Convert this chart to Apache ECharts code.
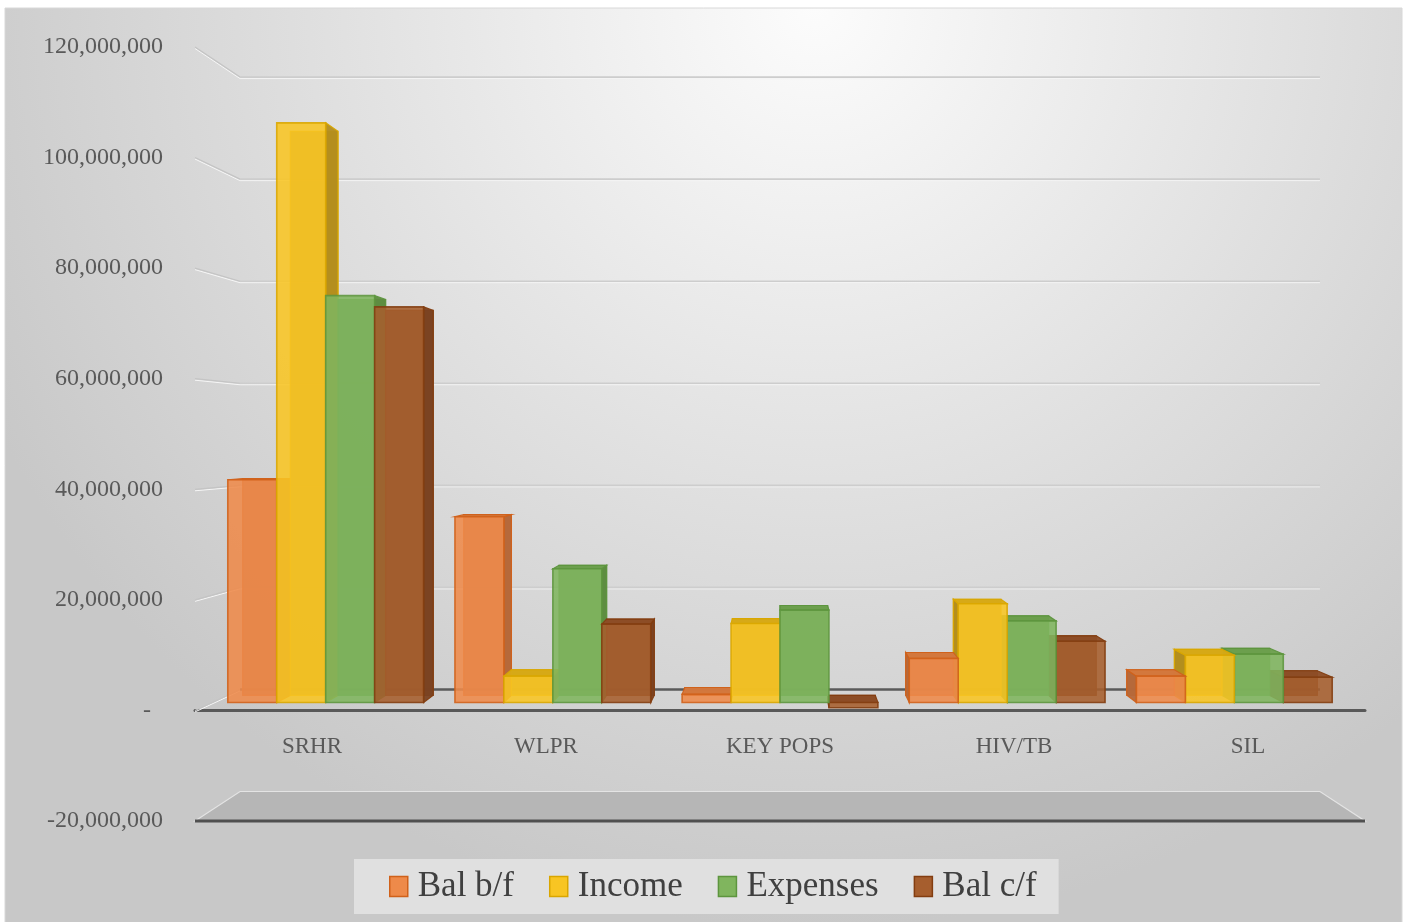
<!DOCTYPE html>
<html><head><meta charset="utf-8">
<script src="https://cdn.jsdelivr.net/npm/echarts@6/dist/echarts.min.js"></script>
<style>html,body{margin:0;padding:0;background:#fff}#c{width:1407px;height:922px}</style>
</head><body><div id="c"></div>
<script>
// ---- data ----
const categories = ['SRHR', 'WLPR', 'KEY POPS', 'HIV/TB', 'SIL'];
const seriesNames = ['Bal b/f', 'Income', 'Expenses', 'Bal c/f'];
const balBF    = [41500000, 34600000,  1500000,  8200000, 4900000];
const income   = [108000000, 4900000, 14700000, 18400000, 8800000];
const expenses = [75800000, 24900000, 17200000, 15200000, 9000000];
const balCF    = [73700000, 14600000, -1000000, 11400000, 4700000];
const yMin = -20000000, yMax = 120000000, yStep = 20000000;
const yTicks = [-20000000, 0, 20000000, 40000000, 60000000, 80000000, 100000000, 120000000];

const seriesValues = [balBF, income, expenses, balCF];
const palettes = [
  {front: '#EE8A4A', stroke: '#D0611A', side: '#B5683A', top: '#D4783D'},
  {front: '#F8C523', stroke: '#D9A600', side: '#B38D1E', top: '#D8AA16'},
  {front: '#80B55E', stroke: '#5D953E', side: '#5E8C40', top: '#6D9F4D'},
  {front: '#A65E2E', stroke: '#833D10', side: '#7A4222', top: '#8D4D26'}
];

// ---- perspective settings ----
const BACK_SCALE = 0.923, HORIZON = 0.505, Z_FRONT = 0.38, Z_BACK = 0.72, BAR_FRAC = 0.2155;
function proj(rect, x, y, z) {
  const vx = rect.x + rect.width / 2, vy = rect.y + rect.height * HORIZON;
  const s = 1 - (1 - BACK_SCALE) * z;
  return [vx + (x - vx) * s, vy + (y - vy) * s];
}

function barRenderer(j) {
  const pal = palettes[j];
  return function (params, api) {
    const rect = params.coordSys;
    const i = api.value(0), v = api.value(1);
    const c0 = api.coord([i, 0]), c1 = api.coord([i, v]);
    const band = api.size([1, 0])[0];
    const bw = band * BAR_FRAC;
    const x0 = c0[0] - 2 * bw + j * bw, x1 = x0 + bw;
    const yT = Math.min(c0[1], c1[1]), yB = Math.max(c0[1], c1[1]);
    const vx = rect.x + rect.width / 2, vy = rect.y + rect.height * HORIZON;
    const P = (x, y, z) => proj(rect, x, y, z);
    const zf = Z_FRONT, zb = Z_BACK;
    const base = (3000 - Math.round(Math.abs((x0 + x1) / 2 - vx))) * 10;
    const ch = [];
    ch.push({type: 'polygon', z2: base, shape: {points: [P(x0, yT, zb), P(x1, yT, zb), P(x1, yB, zb), P(x0, yB, zb)]},
      style: {fill: pal.side, stroke: pal.stroke, lineWidth: 1.2, opacity: 0.9}});
    if (x1 < vx) {
      ch.push({type: 'polygon', z2: base + 1, shape: {points: [P(x1, yT, zf), P(x1, yT, zb), P(x1, yB, zb), P(x1, yB, zf)]},
        style: {fill: pal.side, stroke: pal.stroke, lineWidth: 1.2, opacity: 0.95}});
    }
    if (x0 > vx) {
      ch.push({type: 'polygon', z2: base + 1, shape: {points: [P(x0, yT, zf), P(x0, yT, zb), P(x0, yB, zb), P(x0, yB, zf)]},
        style: {fill: pal.side, stroke: pal.stroke, lineWidth: 1.2, opacity: 0.95}});
    }
    if (yT > vy) {
      ch.push({type: 'polygon', z2: base + 2, shape: {points: [P(x0, yT, zf), P(x1, yT, zf), P(x1, yT, zb), P(x0, yT, zb)]},
        style: {fill: pal.top, stroke: pal.stroke, lineWidth: 1.2, opacity: 0.95}});
    }
    if (yB < vy) {
      ch.push({type: 'polygon', z2: base + 2, shape: {points: [P(x0, yB, zf), P(x1, yB, zf), P(x1, yB, zb), P(x0, yB, zb)]},
        style: {fill: pal.top, stroke: pal.stroke, lineWidth: 1.2, opacity: 0.95}});
    }
    ch.push({type: 'polygon', z2: base + 3, shape: {points: [P(x0, yT, zf), P(x1, yT, zf), P(x1, yB, zf), P(x0, yB, zf)]},
      style: {fill: pal.front, stroke: pal.stroke, lineWidth: 1.6, opacity: 0.88}});
    return {type: 'group', children: ch};
  };
}

function decorRenderer(params, api) {
  const rect = params.coordSys;
  const P = (x, y, z) => proj(rect, x, y, z);
  const xl = rect.x, xr = rect.x + rect.width;
  const ch = [];
  yTicks.forEach(function (t) {
    const y = api.coord([0, t])[1];
    const bl = P(xl, y, 1), br = P(xr, y, 1);
    if (t === yMin) {
      ch.push({type: 'polygon', shape: {points: [[xl, y], bl, br, [xr, y]]},
        style: {fill: '#b6b6b6', stroke: '#e4e4e4', lineWidth: 1.2}});
      ch.push({type: 'line', shape: {x1: xl, y1: y, x2: xr, y2: y}, style: {stroke: '#505050', lineWidth: 3}});
      return;
    }
    ch.push({type: 'line', shape: {x1: xl, y1: y + 1.5, x2: bl[0], y2: bl[1] + 1.5}, style: {stroke: '#f6f6f6', lineWidth: 1}});
    ch.push({type: 'line', shape: {x1: xl, y1: y, x2: bl[0], y2: bl[1]}, style: {stroke: '#c4c4c4', lineWidth: 1.2}});
    if (t === 0) {
      ch.push({type: 'line', shape: {x1: bl[0], y1: bl[1], x2: br[0], y2: br[1]}, style: {stroke: '#5a5a5a', lineWidth: 2.5}});
    } else {
      ch.push({type: 'line', shape: {x1: bl[0], y1: bl[1] + 1.5, x2: br[0], y2: br[1] + 1.5}, style: {stroke: '#f4f4f4', lineWidth: 1}});
      ch.push({type: 'line', shape: {x1: bl[0], y1: bl[1], x2: br[0], y2: br[1]}, style: {stroke: '#cdcdcd', lineWidth: 1.6}});
    }
  });
  return {type: 'group', children: ch};
}

const font = 'Liberation Serif';
const chart = echarts.init(document.getElementById('c'));
const series = [{
  type: 'custom', name: '_decor', z: 1, silent: true, data: [[0, 0]],
  encode: {x: 0, y: 1}, renderItem: decorRenderer
}];
seriesNames.forEach(function (n, j) {
  series.push({
    type: 'custom', name: n, z: 2, silent: true,
    itemStyle: {color: palettes[j].front, borderColor: palettes[j].stroke},
    data: seriesValues[j].map(function (v, i) { return [i, v]; }),
    encode: {x: 0, y: 1}, renderItem: barRenderer(j)
  });
});

// grid geometry: 120M at y=47, -20M at y=821 -> zero line sits 110px above grid bottom
const GRID_TOP = 47, GRID_BOTTOM = 101;
const zeroOffset = (922 - GRID_TOP - GRID_BOTTOM) * (0 - yMin) / (yMax - yMin);

chart.setOption({
  animation: false,
  graphic: [{
    type: 'rect', z: -10, silent: true,
    shape: {x: 5, y: 8, width: 1397, height: 920},
    style: {
      fill: {type: 'radial', x: 0.58, y: 0.0, r: 1.0, colorStops: [
        {offset: 0, color: '#fcfcfc'}, {offset: 0.55, color: '#dfdfdf'}, {offset: 1, color: '#c8c8c8'}]},
      stroke: '#d8d8d8', lineWidth: 1
    }
  }],
  grid: {left: 195, right: 42, top: GRID_TOP, bottom: GRID_BOTTOM},
  xAxis: {
    type: 'category', data: categories,
    offset: -zeroOffset,
    axisLine: {onZero: false, lineStyle: {color: '#595959', width: 3}},
    axisTick: {show: false},
    axisLabel: {fontFamily: font, fontSize: 23, color: '#595959', margin: 25},
    splitLine: {show: false}
  },
  yAxis: {
    type: 'value', min: yMin, max: yMax, interval: yStep,
    axisLine: {show: false}, axisTick: {show: false}, splitLine: {show: false},
    axisLabel: {
      fontFamily: font, fontSize: 24, color: '#595959', margin: 32,
      formatter: function (v) { return v === 0 ? '-  ' : v.toLocaleString('en-US'); }
    }
  },
  legend: {
    data: seriesNames.map(function (n, j) {
      return {name: n, icon: 'rect', itemStyle: {color: palettes[j].front, borderColor: palettes[j].stroke, borderWidth: 1.5}};
    }),
    bottom: 8, left: 354, itemWidth: 18, itemHeight: 20, itemGap: 35,
    backgroundColor: '#e0e0e0', padding: [10, 22, 10, 35],
    textStyle: {fontFamily: font, fontSize: 35, color: '#404040', padding: [0, 0, 0, 5]},
    selectedMode: false
  },
  series: series
});
</script>
</body></html>
